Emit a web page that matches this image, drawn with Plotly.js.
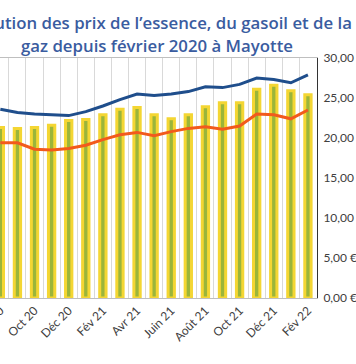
<!DOCTYPE html>
<html>
<head>
<meta charset="utf-8">
<script src="https://cdn.plot.ly/plotly-3.0.1.min.js"></script>
<style>html,body{margin:0;padding:0;background:#fff;}#chart{width:356px;height:364px;}</style>
</head>
<body>
<div id="chart"></div>
<script>
// Months visible in the (cropped) chart
const months = ["Août 20","Sept 20","Oct 20","Nov 20","Déc 20","Janv 21","Fév 21","Mars 21","Avr 21","Mai 21","Juin 21","Juil 21","Août 21","Sept 21","Oct 21","Nov 21","Déc 21","Janv 22","Fév 22"];
// Bars: bouteille de gaz (right axis, €)
const gaz = [21.3,21.2,21.3,21.6,22.2,22.3,22.9,23.6,23.8,22.9,22.4,22.9,23.9,24.4,24.4,26.1,26.6,25.9,25.4];
// Lines (read against the right axis)
const essence = [23.6,23.2,23.0,22.9,22.8,23.3,24.0,24.8,25.5,25.3,25.5,25.8,26.4,26.3,26.7,27.5,27.3,26.9,27.9];
const gasoil = [19.4,19.4,18.6,18.5,18.7,19.1,19.8,20.4,20.7,20.3,20.8,21.2,21.4,21.1,21.5,23.0,22.9,22.4,23.5];
const tickText = months.map((m, i) => (i % 2 === 0 ? m : ""));
const titleLines = ["Évolution des prix de l’essence, du gasoil et de la", "gaz depuis février 2020 à Mayotte"];

const traces = [
  {type: "bar", name: "Bouteille de gaz", x: months, y: gaz,
   marker: {color: "#9bb53a", line: {color: "#f4d633", width: 3}}},
  {type: "scatter", mode: "lines", name: "Essence", x: months, y: essence,
   line: {color: "#1f4e8c", width: 3}},
  {type: "scatter", mode: "lines", name: "Gasoil", x: months, y: gasoil,
   line: {color: "#f25a1c", width: 3}}
];

const titleFont = {family: "Open Sans", size: 16.8, color: "#3a5ca0", weight: 600};
const layout = {
  width: 356, height: 364,
  margin: {l: 0, r: 39, t: 58, b: 66, pad: 0},
  paper_bgcolor: "#fff", plot_bgcolor: "#fff",
  showlegend: false,
  separators: ", ",
  bargap: 0.63,
  annotations: [
    {text: titleLines[0], xref: "paper", yref: "paper", x: 0.4937, y: (298 - 22.5) / 240,
     xanchor: "center", yanchor: "middle", showarrow: false, font: titleFont},
    {text: titleLines[1], xref: "paper", yref: "paper", x: 0.4937, y: (298 - 45.5) / 240,
     xanchor: "center", yanchor: "middle", showarrow: false, font: titleFont}
  ],
  xaxis: {
    type: "category", range: [-0.02, 18.53],
    tickmode: "array", tickvals: months, ticktext: tickText,
    tickangle: -45, tickson: "boundaries", ticks: "",
    showgrid: true, gridcolor: "#d9d9d9", gridwidth: 1,
    showline: true, mirror: true, linecolor: "#bfbfbf", linewidth: 1,
    tickfont: {family: "Lato", size: 12, color: "#404040"}
  },
  yaxis: {
    side: "right", range: [0, 30], dtick: 5, tickformat: ".2f", ticksuffix: " €",
    showgrid: false, zeroline: false, ticks: "", ticklabelstandoff: 3,
    showline: true, linecolor: "#333", linewidth: 1,
    tickfont: {family: "Lato", size: 12, color: "#404040"}
  }
};

Plotly.newPlot("chart", traces, layout, {displayModeBar: false, staticPlot: true});
</script>
</body>
</html>
